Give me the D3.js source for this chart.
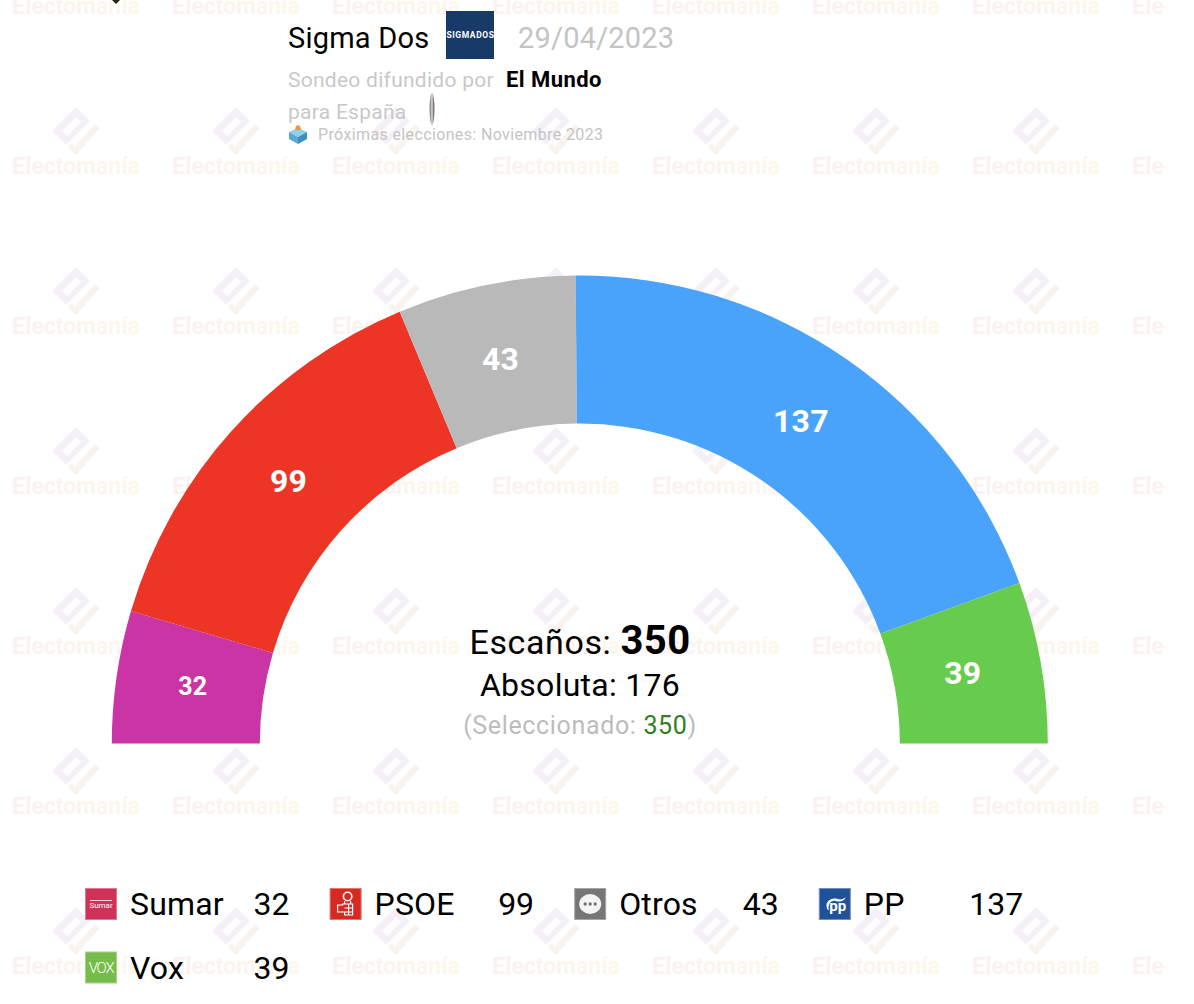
<!DOCTYPE html>
<html>
<head>
<meta charset="utf-8">
<script src="https://cdn.jsdelivr.net/npm/d3@7"></script>
<style>
  html, body { margin: 0; padding: 0; background: #fff; }
  text { font-family: Roboto, sans-serif; }
</style>
</head>
<body>
<svg id="chart" width="1194" height="1004"></svg>
<script>
// data
const parties = ["Sumar", "PSOE", "Otros", "PP", "Vox"];
const seats = [32, 99, 43, 137, 39];
const arcColors = ["#ca34a4", "#ec3524", "#b9b9b9", "#4aa3fa", "#67cb4d"];
const logoColors = ["#cf3159", "#d42a22", "#767676", "#1f5299", "#76bc4a"];
const totalSeats = 350;
const majority = 176;
const selected = 350;

const svg = d3.select("#chart");
const cx = 579.8, cy = 743.6;

// gradient for the watermark text
const defs = svg.append("defs");
const grad = defs.append("linearGradient").attr("id", "wmText");
grad.append("stop").attr("offset", "0%").attr("stop-color", "#fbf0f0");
grad.append("stop").attr("offset", "100%").attr("stop-color", "#fef7ec");
const coinGrad = defs.append("linearGradient").attr("id", "coin");
coinGrad.append("stop").attr("offset", "0%").attr("stop-color", "#666");
coinGrad.append("stop").attr("offset", "50%").attr("stop-color", "#ddd");
coinGrad.append("stop").attr("offset", "100%").attr("stop-color", "#4a3a30");
defs.append("clipPath").attr("id", "wmClip")
  .append("rect").attr("width", 1165).attr("height", 1004);

// tiled watermark behind everything
const wm = svg.append("g").attr("clip-path", "url(#wmClip)");
const wmX = d3.range(0, 8).map(i => 76 + i * 160);
const wmY = d3.range(-1, 6).map(i => 131 + i * 160);
wmY.forEach(y => wmX.forEach(x => {
  const g = wm.append("g").attr("transform", `translate(${x},${y})`);
  g.append("path")
    .attr("d", "M-24,0 L0,-24 L14,-10 L-10,14 Z M-14,0 L-9,5 L5,-9 L0,-14 Z")
    .attr("fill", "#f5f0f7").attr("fill-rule", "evenodd");
  g.append("path")
    .attr("d", "M-8,16 L0,24 L24,-3 L19,-7 L-1,15 L-4,12 Z")
    .attr("fill", "#f8f3ef");
  g.append("text").attr("y", 43).attr("text-anchor", "middle")
    .attr("font-size", 23).attr("font-weight", 700)
    .attr("fill", "url(#wmText)").text("Electomanía");
}));

// small black mark cut by the top edge
svg.append("path").attr("d", "M112,0 L120,0 L116,4 Z").attr("fill", "#222");

// header
svg.append("text").attr("x", 288).attr("y", 48).attr("font-size", 29).attr("letter-spacing", 0.22).attr("fill", "#000").text("Sigma Dos");
const pollster = svg.append("g").attr("transform", "translate(446,11)");
pollster.append("rect").attr("width", 48).attr("height", 48).attr("fill", "#173a69");
pollster.append("text").attr("x", 24.5).attr("y", 27).attr("text-anchor", "middle")
  .attr("font-size", 8.5).attr("letter-spacing", 0.6).attr("font-weight", 700).attr("fill", "#fff").text("SIGMADOS");
svg.append("text").attr("x", 518).attr("y", 48).attr("font-size", 29).attr("letter-spacing", 0.2).attr("fill", "#c4c4c4").text("29/04/2023");
svg.append("text").attr("x", 288).attr("y", 87).attr("font-size", 21).attr("letter-spacing", 0.27).attr("fill", "#c8c8c8").text("Sondeo difundido por");
svg.append("text").attr("x", 506).attr("y", 87).attr("font-size", 22).attr("letter-spacing", 0.45).attr("font-weight", 700).attr("fill", "#000").text("El Mundo");
svg.append("text").attr("x", 288).attr("y", 119).attr("font-size", 21).attr("letter-spacing", 0.27).attr("fill", "#c8c8c8").text("para España");
svg.append("ellipse").attr("cx", 432).attr("cy", 109).attr("rx", 2.4).attr("ry", 16)
  .attr("fill", "url(#coin)");

// ballot box icon
const box = svg.append("g").attr("transform", "translate(298,135)");
box.append("path").attr("d", "M-9,-3 L0,-7 L9,-3 L0,2 Z").attr("fill", "#8fd0ea");
box.append("path").attr("d", "M-9,-3 L0,2 L0,9 L-9,4 Z").attr("fill", "#5ba9cf");
box.append("path").attr("d", "M9,-3 L0,2 L0,9 L9,4 Z").attr("fill", "#3f8dbb");
box.append("path").attr("d", "M-3,-5 L-2,-9 L0,-10 L2,-9 L3,-5 Z").attr("fill", "#f0953a");
svg.append("text").attr("x", 318).attr("y", 140).attr("font-size", 16).attr("letter-spacing", 0.37).attr("fill", "#c4c4c4")
  .text("Próximas elecciones: Noviembre 2023");

// hemicycle
const pie = d3.pie().sort(null).startAngle(-Math.PI / 2).endAngle(Math.PI / 2);
const arcs = pie(seats);
const arc = d3.arc().innerRadius(320).outerRadius(468);
const labelArc = d3.arc().innerRadius(390).outerRadius(390);

const hemi = svg.append("g").attr("transform", `translate(${cx},${cy})`);
hemi.selectAll("path").data(arcs).join("path")
  .attr("d", arc)
  .attr("fill", (d, i) => arcColors[i]);
hemi.selectAll("text").data(arcs).join("text")
  .attr("transform", d => `translate(${labelArc.centroid(d)})`)
  .attr("text-anchor", "middle").attr("dx", -1).attr("dy", "0.27em")
  .attr("font-weight", 700).attr("fill", "#fff")
  .attr("font-size", d => d.value < 35 ? 25 : 32)
  .attr("letter-spacing", 0.3)
  .text(d => d.value);

// centre text
const t1 = svg.append("text").attr("x", 580).attr("y", 654).attr("text-anchor", "middle").attr("font-size", 34).attr("letter-spacing", 0.6).attr("fill", "#000");
t1.append("tspan").text("Escaños: ");
t1.append("tspan").attr("font-weight", 700).attr("font-size", 40).attr("letter-spacing", 0.4).text(totalSeats);
svg.append("text").attr("x", 580).attr("y", 696).attr("text-anchor", "middle").attr("font-size", 32).attr("letter-spacing", 0.28).attr("fill", "#000")
  .text("Absoluta: " + majority);
const t3 = svg.append("text").attr("x", 580).attr("y", 734).attr("text-anchor", "middle").attr("font-size", 25).attr("letter-spacing", 0.65).attr("fill", "#bcbcbc");
t3.append("tspan").text("(Seleccionado: ");
t3.append("tspan").attr("fill", "#2f8020").text(selected);
t3.append("tspan").text(")");

// legend
const legendX = i => 85 + (i % 4) * 244.6;
const legendY = i => 888 + Math.floor(i / 4) * 63.5;
const legend = svg.selectAll("g.legend").data(parties).join("g")
  .attr("class", "legend")
  .attr("transform", (d, i) => `translate(${legendX(i)},${legendY(i)})`);
legend.append("rect").attr("x", 0.5).attr("y", 0.5).attr("width", 31).attr("height", 31)
  .attr("fill", (d, i) => logoColors[i])
  .attr("stroke", (d, i) => d3.interpolateRgb(logoColors[i], "#fff")(0.35));
legend.append("text").attr("x", 45).attr("y", 27).attr("font-size", 32).attr("letter-spacing", 0.15).attr("fill", "#000").text(d => d);
legend.append("text").attr("x", 204.5).attr("y", 27).attr("text-anchor", "end").attr("font-size", 32).attr("fill", "#000")
  .text((d, i) => seats[i]);

// logo glyphs
const logo = name => legend.filter(d => d === name);
logo("Sumar").append("line").attr("x1", 5).attr("x2", 27).attr("y1", 12.5).attr("y2", 12.5).attr("stroke", "#fff").attr("stroke-width", 0.8);
logo("Sumar").append("text").attr("x", 16).attr("y", 20).attr("text-anchor", "middle").attr("font-size", 8).attr("fill", "#fff").text("Sumar");
// rose in a fist
const rose = logo("PSOE").append("g").attr("fill", "none").attr("stroke", "#fff").attr("stroke-width", 1.2);
rose.append("circle").attr("cx", 18).attr("cy", 8.5).attr("r", 4.2).attr("stroke-width", 1.6);
rose.append("path").attr("d", "M15,13 v3 h6 v-3 M13,16 h10 v11 h-8 v-3 h-7 v-7 h5 Z M15,20 h8 M15,24 h8 M19,16 v11");
// gull over pp
const pp = logo("PP").append("g");
pp.append("path").attr("d", "M9,22 C5,15 11,9 19,11 C22,12 25,11 27,9 C25,14 20,14 17,13 C12,12 9,16 10,22 Z").attr("fill", "#fff");
pp.append("text").attr("x", 19).attr("y", 23).attr("text-anchor", "middle").attr("font-size", 15).attr("font-weight", 700).attr("fill", "#fff").text("pp");
logo("Otros").append("ellipse").attr("cx", 16).attr("cy", 16).attr("rx", 11).attr("ry", 10).attr("fill", "#f4f4f4");
logo("Otros").selectAll("circle").data(d3.range(3)).join("circle")
  .attr("cx", d => 11 + d * 5).attr("cy", 16).attr("r", 1.7).attr("fill", "#767676");
logo("Vox").append("text").attr("x", 16).attr("y", 21).attr("text-anchor", "middle").attr("font-size", 15).attr("font-weight", 300).attr("letter-spacing", -1.2).attr("fill", "#fff").text("VOX");
</script>
</body>
</html>
